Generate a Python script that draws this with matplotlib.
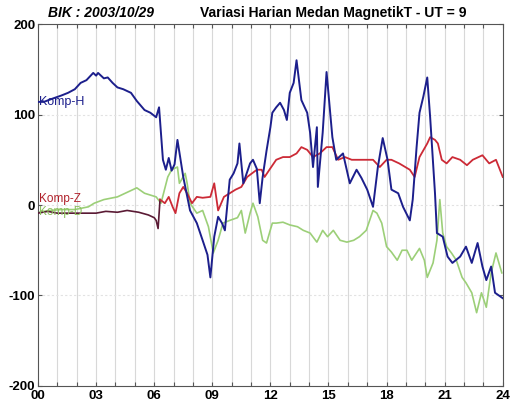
import matplotlib
matplotlib.use("Agg")
import matplotlib.pyplot as plt
import numpy as np

plt.rcParams['font.family'] = ['Liberation Sans', 'DejaVu Sans']

# ---- data ----
h_hours = [0.0, 0.3, 0.8, 1.2, 1.55, 1.9, 2.2, 2.5, 2.85, 3.0, 3.1, 3.4, 3.6, 3.85, 4.1, 4.4, 4.8,
           5.1, 5.5, 5.8, 6.1, 6.25, 6.45, 6.6, 6.75, 6.9, 7.05, 7.2, 7.5, 7.85, 8.2, 8.5, 8.75,
           8.9, 9.1, 9.3, 9.5, 9.65, 9.9, 10.1, 10.3, 10.4, 10.6, 10.95, 11.1, 11.3, 11.45, 11.6,
           11.8, 12.0, 12.1, 12.3, 12.5, 12.7, 12.85, 13.0, 13.2, 13.35, 13.6, 13.9, 14.05, 14.2,
           14.4, 14.45, 14.7, 14.9, 15.2, 15.4, 15.75, 16.1, 16.45, 16.7, 17.0, 17.3, 17.55, 17.8,
           18.05, 18.25, 18.6, 18.85, 19.2, 19.35, 19.55, 19.7, 19.9, 20.1, 20.25, 20.5, 20.6,
           20.9, 21.15, 21.4, 21.8, 22.1, 22.4, 22.7, 22.95, 23.15, 23.4, 23.6, 23.8, 24.0]
h_vals = [114, 114, 118, 121, 124, 128, 135, 138, 146, 143, 146, 140, 141, 135, 130, 128, 124,
          115, 105, 102, 97, 108, 50, 39, 52, 38, 45, 72, 31, -6, -20, -39, -55,
          -80, -35, -13, -20, -28, 28, 35, 46, 68, 24, 46, 50, 40, 2, 31,
          60, 86, 102, 108, 113, 105, 94, 124, 135, 160, 116, 102, 80, 42,
          86, 20, 80, 147, 75, 50, 57, 24, 39, 30, 17, -2, 42, 74,
          50, 17, 13, -2, -17, 6, 64, 102, 120, 141, 97, 13, -31,
          -35, -57, -64, -57, -46, -64, -42, -68, -83, -68, -97, -100, -103]

z_hours = [0.0, 0.5, 1.0, 1.7, 2.5, 3.0, 3.5, 4.1, 4.6, 5.2, 5.7, 6.0, 6.1, 6.2, 6.3, 6.55, 6.75,
           6.95, 7.1, 7.3, 7.5, 7.7, 7.95, 8.2, 8.5, 8.9, 9.1, 9.3, 9.6, 9.9, 10.2, 10.5, 10.8,
           11.3, 11.55, 11.7, 11.95, 12.3, 12.65, 13.0, 13.35, 13.6, 13.9, 14.2, 14.55, 14.9,
           15.2, 15.5, 15.85, 16.2, 16.6, 16.95, 17.3, 17.65, 18.0, 18.25, 18.65, 19.2, 19.45,
           19.7, 20.1, 20.25, 20.5, 20.65, 20.85, 21.1, 21.4, 21.8, 22.15, 22.45, 22.95, 23.3,
           23.65, 24.0]
z_vals = [-9, -7, -9, -9, -9, -9, -7, -8, -6, -8, -11, -14, -17, -26, 6, 2, 9,
          -2, -9, 13, 20, 13, 2, 9, 8, 9, 24, -6, 9, 13, 17, 20, 31,
          39, 39, 31, 39, 50, 53, 53, 57, 64, 61, 53, 57, 64,
          64, 50, 53, 50, 50, 50, 50, 42, 50, 50, 46, 39, 31,
          53, 68, 75, 72, 68, 50, 46, 53, 50, 44, 50, 55, 46,
          50, 31]

d_hours = [0.0, 0.6, 1.2, 1.9, 2.6, 2.9, 3.4, 4.1, 4.6, 5.1, 5.5, 6.1, 6.35, 6.7, 6.9, 7.2, 7.3,
           7.6, 7.7, 7.85, 8.2, 8.5, 8.8, 9.05, 9.3, 9.55, 9.9, 10.3, 10.5, 10.7, 10.95, 11.1,
           11.35, 11.6, 11.8, 12.1, 12.3, 12.65, 13.0, 13.4, 13.7, 14.05, 14.4, 14.7, 14.95,
           15.25, 15.6, 15.95, 16.3, 16.6, 16.95, 17.3, 17.5, 17.75, 18.0, 18.25, 18.55, 18.8,
           19.05, 19.3, 19.7, 19.95, 20.1, 20.4, 20.6, 20.75, 20.9, 21.1, 21.35, 21.6, 21.9,
           22.1, 22.4, 22.65, 22.9, 23.15, 23.4, 23.65, 23.95]
d_vals = [-8, -6, -5, -5, -2, 2, 6, 9, 14, 19, 13, 9, 2, 31, 39, 42, 24,
          35, 24, 2, -9, -6, -24, -53, -39, -20, -17, -14, -6, -31, -9, 2,
          -13, -39, -42, -20, -20, -19, -22, -24, -28, -31, -41, -28, -35,
          -28, -39, -41, -39, -35, -28, -6, -9, -20, -46, -52, -61, -50,
          -50, -61, -48, -61, -80, -64, -39, 6, -31, -46, -53, -61, -80,
          -86, -97, -119, -97, -113, -75, -53, -75]

x_ticks = [0, 3, 6, 9, 12, 15, 18, 21, 24]
x_ticklabels = ["00", "03", "06", "09", "12", "15", "18", "21", "24"]
y_ticks = [-200, -100, 0, 100, 200]

# ---- figure ----
fig = plt.figure(figsize=(5.21, 4.08), dpi=100)
ax = fig.add_axes([0.073, 0.054, 0.892, 0.887])

for h in range(1, 24):
    ax.axvline(h, color='#d8d8d8', lw=0.8, zorder=0)
for v in [-100, 0, 100]:
    ax.axhline(v, color='#e2e2e2', lw=0.8, ls=(0, (2, 2)), zorder=0)

split = 15
ax.plot(d_hours, d_vals, color='#9ccf78', lw=1.2, zorder=2)
ax.plot(z_hours[:split], z_vals[:split], color='#5a1a34', lw=1.2, zorder=3)
ax.plot(z_hours[split - 1:], z_vals[split - 1:], color='#cc2a36', lw=1.3, zorder=3)
ax.plot(h_hours, h_vals, color='#1c1f8c', lw=1.4, zorder=4)

ax.text(0.05, 114, "Komp-H", color='#1c1f8c', fontsize=9, va='center', ha='left', zorder=5)
ax.text(0.05, 7, "Komp-Z", color='#b0202a', fontsize=8.5, va='center', ha='left', zorder=5)
ax.text(0.05, -8, "Komp-D", color='#8cc060', fontsize=8.5, va='center', ha='left', zorder=5)

ax.set_xlim(0, 24)
ax.set_ylim(-200, 200)
ax.set_xticks(x_ticks)
ax.set_xticklabels(x_ticklabels, fontsize=9.5, fontweight='bold')
ax.set_xticks(range(25), minor=True)
ax.set_yticks(y_ticks)
ax.set_yticklabels([str(v) for v in y_ticks], fontsize=9.5, fontweight='bold')
ax.tick_params(axis='both', which='both', direction='in', top=True, right=True,
               length=3, width=0.8, color='#555555')
ax.tick_params(axis='x', pad=3)
ax.tick_params(axis='y', pad=2)
for lbl in ax.get_yticklabels():
    lbl.set_verticalalignment('center_baseline')
for s in ax.spines.values():
    s.set_color('#555555')
    s.set_linewidth(0.8)

fig.text(0.092, 0.968, "BIK : 2003/10/29", fontsize=10, fontweight='bold', style='italic',
         ha='left', va='center')
fig.text(0.384, 0.968, "Variasi Harian Medan MagnetikT - UT = 9", fontsize=10,
         fontweight='bold', ha='left', va='center')

fig.savefig("out.png", dpi=100)
